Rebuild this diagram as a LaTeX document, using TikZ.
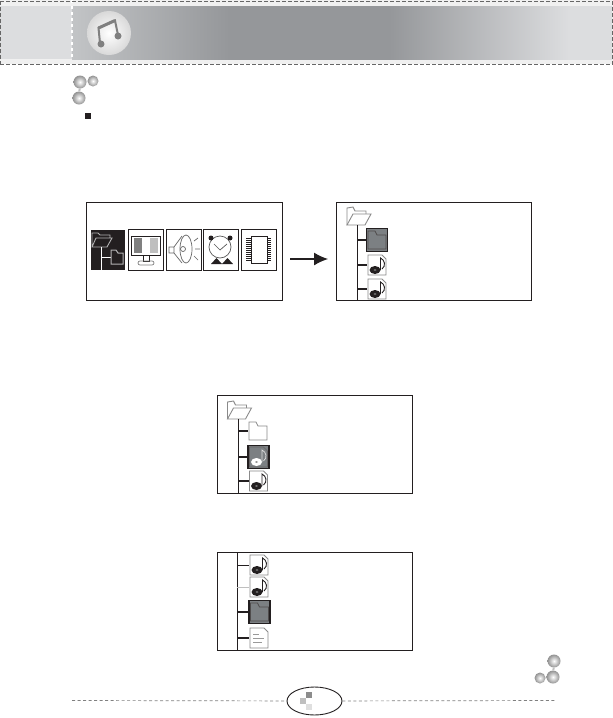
\documentclass[tikz,border=0pt]{standalone}
\usepackage{tikz}
\usetikzlibrary{arrows.meta,positioning,shapes.geometric}
\definecolor{inkblk}{HTML}{231F20}
\definecolor{selgray}{HTML}{7C8083}
\definecolor{linegray}{HTML}{8A8A8A}
\definecolor{dashgray}{HTML}{666666}
\definecolor{bandlight}{HTML}{DCDDDF}
\definecolor{bandmid}{HTML}{C2C4C6}
\definecolor{banddark}{HTML}{95979A}
\pgfdeclarehorizontalshading{bandshade}{100bp}{
    color(0bp)=(bandmid); color(25bp)=(bandmid); color(39.6bp)=(banddark);
    color(54.4bp)=(banddark); color(71bp)=(bandlight); color(100bp)=(bandlight)}
\tikzset{
    panel/.style={draw=inkblk, line width=1pt, fill=white, minimum width=195pt, minimum height=98pt, inner sep=0pt},
    iconbox/.style={draw=inkblk, line width=1pt, fill=white, minimum width=35pt, minimum height=41pt, inner sep=0pt},
    selbox/.style={draw=inkblk, line width=1.4pt, fill=selgray, minimum width=21pt, minimum height=23pt, inner sep=0pt},
    plainbox/.style={minimum width=19pt, minimum height=20pt, inner sep=0pt},
    trunk/.style={draw=inkblk, line width=0.9pt},
    branch/.style={draw=inkblk, line width=1.8pt},
    thinbranch/.style={draw=inkblk, line width=0.9pt},
    dashline/.style={dashgray, line width=0.8pt, dash pattern=on 3.5pt off 2.5pt},
    ballnode/.style={circle, inner sep=0pt, inner color=white, outer color=gray!85},
    pics/folderopen/.style={code={
        \draw[linegray, fill=white, line width=0.9pt] (-11,9) -- (-11,-8) -- (-5,-9) -- (-3,-5) -- (8,-5) -- (8,-2);
        \draw[linegray, fill=white, line width=0.9pt] (-11,9) -- (-5,-2) -- (13,-2) -- (7,9) -- cycle;
    }},
    pics/folderclosed/.style={code={
        \draw[#1, line width=0.8pt] (-9,9) -- (-9,-9) -- (-2,-9) -- (0,-5) -- (9,-5) -- (9,9) -- cycle;
    }},
    pics/folderclosed/.default=linegray,
    pics/notefile/.style={code={
        \draw[linegray, fill=white, line width=0.8pt] (-9,-10) -- (5,-10) -- (9,-6) -- (9,10) -- (-9,10) -- cycle;
        \draw[inkblk, line width=0.9pt] (3.5,5) -- (3.5,-7) .. controls (8,-5) and (9,1) .. (5,4);
        \fill[inkblk] (-2,5) ellipse (5.5 and 4);
        \fill[gray] (-2,5) ellipse (1.5 and 0.8);
    }},
    pics/noteinv/.style={code={
        \draw[inkblk!70, line width=0.7pt] (-9,-10) -- (5,-10) -- (9,-6) -- (9,10) -- (-9,10) -- cycle;
        \draw[gray!25, line width=0.7pt] (3.5,5) -- (3.5,-7) .. controls (8,-5) and (9,1) .. (5,4);
        \fill[white] (-2,5) ellipse (5.5 and 4);
        \fill[gray] (-2,5) ellipse (1.5 and 0.8);
    }},
    pics/textfile/.style={code={
        \draw[linegray, fill=white, line width=0.8pt] (-9,-10) -- (5,-10) -- (9,-6) -- (9,10) -- (-9,10) -- cycle;
        \draw[gray!80, line width=0.7pt] (-6,-4) -- (0,-4) (-6,0) -- (5,0) (-6,4) -- (3,4);
    }},
    pics/balls/.style={code={
        \node[ballnode, minimum size=13pt] (#1a) at (0,0) {};
        \node[ballnode, minimum size=11pt] (#1b) at (13,-1) {};
        \node[ballnode, minimum size=13pt] (#1c) at (-1,16) {};
        \draw[gray!50, line width=2pt] (#1a) -- (#1b) (#1a) -- (#1c);
    }},
}
\begin{document}
\begin{tikzpicture}[x=1pt, y=-1pt]
    \useasboundingbox (0,0) rectangle (613,718);

    % header band
    \fill[gray!12] (0,0) rectangle (613,64);
    \fill[bandlight] (0,6) rectangle (72,59);
    \shade[shading=bandshade] (72,6) rectangle (612,59);
    \draw[white, line width=1.5pt, dashed] (72,0) -- (72,59);
    \draw[dashline] (0,1) -- (613,1);
    \draw[dashline] (0,64) -- (613,64);
    \draw[dashline] (0.5,1) -- (0.5,64);
    \draw[dashline] (612.5,1) -- (612.5,64);

    % music note badge
    \node[circle, minimum size=44pt, inner sep=0pt, inner color=white, outer color=gray!30] (badge) at (109,33) {};
    \draw[gray, line width=2pt] (100,43) -- (98.5,28) -- (115,20.5) -- (118,35);
    \draw[gray, line width=3pt] (98.5,28) -- (115,20.5);
    \fill[gray] (101,44) circle (3.5);
    \fill[gray] (118,36) circle (3.5);

    \pic at (80,82) {balls=top};
    \pic[rotate=180] at (553,677) {balls=low};
    \node[fill=inkblk, minimum size=5.5pt, inner sep=0pt] (bullet) at (88,116) {};

    % first row
    \node[panel, minimum width=196pt] (menu) at (184,251) {};
    \node[panel] (list1) at (433.5,251) {};
    \coordinate (arrowstart) at (290,259);
    \coordinate (arrowend) at (328,259);
    \draw[-{Latex[length=14pt,width=13pt]}, inkblk, line width=1.2pt] (arrowstart) -- (arrowend);

    \node[fill=inkblk, minimum width=34pt, minimum height=40pt, inner sep=0pt] (tabfolder) at (108,250) {};
    \node[iconbox] (tabscreen) at (146,250) {};
    \node[iconbox] (tabsound) at (183.5,250) {};
    \node[iconbox] (tabalarm) at (221,250) {};
    \node[iconbox] (tabchip) at (259,250) {};

    % folder tab
    \draw[gray!60, line width=0.9pt] (92,247) -- (92,233) -- (98,233) -- (100,235) -- (110,235) -- (110,238) -- (96,238) -- (92,247) -- (107,247) -- (112,238) -- (110,238);
    \draw[white, line width=0.9pt] (101,247) -- (101,270) (101,257) -- (111,257);
    \draw[gray!60, line width=1pt] (111,264) -- (111,250) -- (116,250) -- (118,253) -- (123,253) -- (123,264) -- cycle;

    % screen tab
    \draw[inkblk, line width=1pt] (131.5,236) rectangle (160.5,255);
    \fill[gray] (134,238) rectangle (142,253);
    \fill[white] (142,238) rectangle (150,253);
    \fill[gray!50] (150,238) rectangle (158,253);
    \draw[inkblk, line width=0.7pt] (143,255) rectangle (149,261);
    \draw[gray, line width=0.7pt, rounded corners=2pt] (138,261) rectangle (154,265);

    % speaker tab
    \draw[gray!80!black, line width=0.7pt] (169,247) rectangle (174,253) (174,247) -- (182,236) (174,253) -- (182,263);
    \draw[gray!80!black, line width=0.7pt] (186,249) ellipse (6 and 14);
    \draw[gray!80!black, line width=0.7pt] (183,249) circle (2.5);
    \draw[gray!80!black, line width=0.7pt] (194,241) -- (198,238) (195,249) -- (200,249) (194,256) -- (198,260);

    % alarm tab
    \draw[gray!70!black, line width=0.7pt] (220,247) circle (11);
    \draw[gray!70!black, line width=0.7pt] (214,244) -- (220,250) -- (227,244);
    \fill[inkblk] (211,238) circle (2.5) (230,238) circle (2.5);
    \fill[inkblk] (211,264) -- (216.5,258) -- (222,264) -- cycle;
    \fill[inkblk] (222,264) -- (227.5,258) -- (233,264) -- cycle;

    % chip tab
    \draw[inkblk, line width=0.8pt] (251,236) rectangle (267,263);
    \foreach \chipy in {238,240,...,260} {
        \draw[inkblk, line width=0.6pt] (246,\chipy) -- (251,\chipy) (267,\chipy) -- (271,\chipy);
    }

    % first list
    \pic at (358,216) {folderopen};
    \coordinate (l1end) at (357,300);
    \node[selbox] (l1a) at (377,240) {};
    \pic at (377,240) {folderclosed=inkblk!80};
    \node[plainbox] (l1b) at (377,265) {};
    \pic at (377,265) {notefile};
    \node[plainbox] (l1c) at (377,289) {};
    \pic at (377,289) {notefile};
    \draw[trunk] (357,225) -- (l1end);
    \draw[branch] (357,240) -- (l1a);
    \draw[branch] (357,265) -- (l1b);
    \draw[branch] (357,289) -- (l1c);

    % second list
    \node[panel] (list2) at (314.5,444) {};
    \pic at (238.5,410) {folderopen};
    \coordinate (l2end) at (238,494);
    \node[plainbox] (l2a) at (258,431) {};
    \pic at (258,431) {folderclosed};
    \node[selbox] (l2b) at (258.5,457) {};
    \pic at (258.5,457) {noteinv};
    \node[plainbox] (l2c) at (258.5,481) {};
    \pic at (258.5,481) {notefile};
    \draw[trunk] (238,419) -- (l2end);
    \draw[branch] (238,431) -- (l2a);
    \draw[branch] (238,457) -- (l2b);
    \draw[branch] (238,481) -- (l2c);

    % third list
    \node[panel] (list3) at (314.5,601) {};
    \coordinate (l3start) at (237,552);
    \coordinate (l3end) at (237,650);
    \node[plainbox] (l3a) at (259,565) {};
    \pic at (259,565) {notefile};
    \node[plainbox] (l3b) at (259,587) {};
    \pic at (259,587) {notefile};
    \node[selbox] (l3c) at (259.5,612) {};
    \pic at (259.5,612) {folderclosed=inkblk!80};
    \node[plainbox] (l3d) at (259,638) {};
    \pic at (259,638) {textfile};
    \draw[trunk] (l3start) -- (l3end);
    \draw[thinbranch] (237,565) -- (l3a);
    \draw[gray!50, line width=0.9pt] (237,587) -- (l3b);
    \draw[branch] (237,612) -- (l3c);
    \draw[branch] (237,638) -- (l3d);

    % footer
    \node[ellipse, draw=inkblk, line width=0.9pt, fill=white, minimum width=55pt, minimum height=28pt, inner sep=0pt] (pageno) at (314.5,701) {};
    \coordinate (footl) at (72,700.5);
    \coordinate (footr) at (556,700.5);
    \draw[gray, line width=0.7pt, dash pattern=on 3pt off 2.5pt] (footl) -- (pageno);
    \draw[gray, line width=0.7pt, dash pattern=on 3pt off 2.5pt] (pageno) -- (footr);
    \fill[gray!90] (306,692) rectangle (312,698);
    \fill[gray!50] (300,698) rectangle (306,704);
    \fill[gray!25] (306,704) rectangle (312,710);
\end{tikzpicture}
\end{document}
